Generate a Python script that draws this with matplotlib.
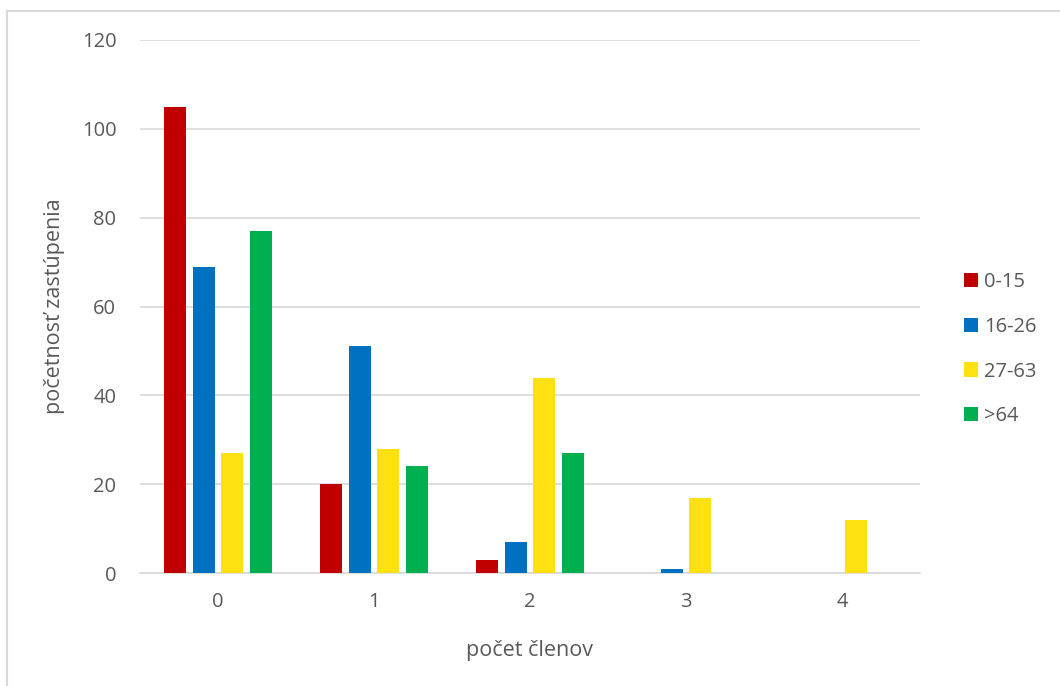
import numpy as np
import matplotlib.pyplot as plt
from matplotlib.lines import Line2D

# Údaje
kategorie = ['0', '1', '2', '3', '4']
vek_0_15 = [105, 20, 3, 0, 0]
vek_16_26 = [69, 51, 7, 1, 0]
vek_27_63 = [27, 28, 44, 17, 12]
vek_nad_64 = [77, 24, 27, 0, 0]
skupiny = ['0-15', '16-26', '27-63', '>64']
farby = ['#C00000', '#0070C0', '#FFE010', '#00B050']

plt.rcParams['font.family'] = ['Open Sans', 'DejaVu Sans']
text_farba = '#595959'

fig = plt.figure(figsize=(10.6, 6.86), dpi=100)
ax = fig.add_axes([0.132, 0.1647, 0.736, 0.777])

x = np.arange(len(kategorie))
sirka = 0.14
krok = 0.183
serie = [vek_0_15, vek_16_26, vek_27_63, vek_nad_64]
for i, (hodnoty, nazov, farba) in enumerate(zip(serie, skupiny, farby)):
    ax.bar(x + (i - 1.5) * krok, hodnoty, width=sirka, color=farba, label=nazov, zorder=3)

ax.set_xlim(-0.5, 4.5)
ax.set_ylim(0, 120)
ax.set_yticks(range(0, 121, 20))
ax.set_xticks(x)
ax.set_xticklabels(kategorie)
ax.grid(axis='y', color='#D9D9D9', linewidth=1.2, zorder=0)
for s in ['top', 'right', 'left']:
    ax.spines[s].set_visible(False)
ax.spines['bottom'].set_color('#D9D9D9')
ax.spines['bottom'].set_linewidth(1.2)
ax.tick_params(length=0, labelsize=14.5, colors=text_farba, pad=14)
ax.tick_params(axis='y', pad=17)

ax.set_xlabel('počet členov', fontsize=15.5, color=text_farba, labelpad=20)
ax.set_ylabel('početnosť zastúpenia', fontsize=15.5, color=text_farba, labelpad=12)

ax.legend(loc='center left', bbox_to_anchor=(1.033, 0.42), frameon=False,
          fontsize=14.5, labelcolor=text_farba, handlelength=0.7, handleheight=0.7,
          handletextpad=0.3, labelspacing=1.23)

# Okraj grafu
fig.add_artist(Line2D([0.0065, 0.0065], [0, 0.984], color='#D9D9D9', lw=1.5, transform=fig.transFigure))
fig.add_artist(Line2D([0.0065, 1], [0.984, 0.984], color='#D9D9D9', lw=1.5, transform=fig.transFigure))

fig.savefig('out.png', dpi=100)
